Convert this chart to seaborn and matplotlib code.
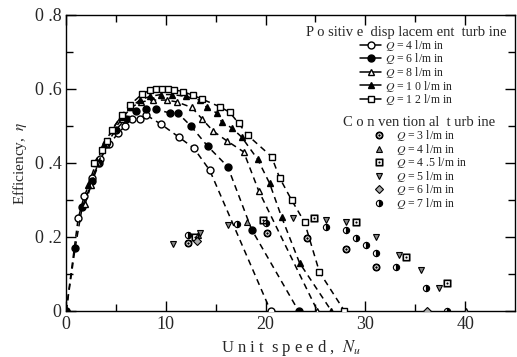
import matplotlib
matplotlib.use("Agg")
import matplotlib.pyplot as plt
from matplotlib.lines import Line2D
import seaborn as sns
import pandas as pd

# ---- Positive displacement turbine (dashed lines) ----
pd4_x = [0, 1.2, 1.8, 2.6, 3.4, 4.3, 5.2, 5.9, 6.6, 7.4, 8.0, 9.5, 11.3, 12.8, 14.4, 20.5]
pd4_y = [0, 0.25, 0.31, 0.36, 0.41, 0.45, 0.48, 0.50, 0.52, 0.52, 0.53, 0.505, 0.47, 0.44, 0.38, 0]
pd6_x = [0, 0.9, 1.6, 2.6, 3.3, 4.0, 5.0, 6.0, 7.0, 8.0, 9.0, 10.4, 11.2, 12.5, 14.2, 16.2, 18.6, 23.3]
pd6_y = [0, 0.17, 0.28, 0.35, 0.40, 0.45, 0.49, 0.52, 0.54, 0.545, 0.545, 0.535, 0.535, 0.50, 0.445, 0.39, 0.22, 0]
pd8_x = [1.9, 2.5, 3.2, 4.0, 4.8, 5.6, 6.5, 7.5, 8.7, 10.1, 11.1, 12.6, 13.6, 14.7, 16.1, 17.8, 19.3, 25.2]
pd8_y = [0.29, 0.34, 0.40, 0.45, 0.49, 0.52, 0.55, 0.565, 0.57, 0.57, 0.565, 0.55, 0.52, 0.487, 0.46, 0.43, 0.325, 0]
pd10_x = [2.2, 3.0, 3.8, 4.6, 5.5, 6.4, 7.4, 8.4, 9.5, 10.6, 12.0, 13.4, 14.1, 15.1, 15.6, 16.6, 17.6, 19.2, 20.4, 21.6, 23.4, 26.6]
pd10_y = [0.34, 0.40, 0.45, 0.49, 0.525, 0.55, 0.57, 0.58, 0.585, 0.585, 0.58, 0.57, 0.55, 0.535, 0.51, 0.495, 0.47, 0.41, 0.345, 0.254, 0.13, 0]
pd12_x = [2.8, 3.6, 4.1, 4.6, 5.6, 6.4, 7.6, 8.4, 9.0, 9.6, 10.2, 10.8, 11.7, 12.7, 13.6, 15.4, 16.4, 17.3, 18.2, 20.6, 21.4, 22.6, 23.9, 25.4, 27.9]
pd12_y = [0.40, 0.435, 0.46, 0.49, 0.53, 0.557, 0.586, 0.597, 0.60, 0.60, 0.60, 0.598, 0.593, 0.583, 0.573, 0.552, 0.537, 0.507, 0.475, 0.417, 0.36, 0.30, 0.24, 0.105, 0]

# ---- Conventional turbine (symbols only) ----
cv3_x = [12.2, 20.1, 24.1, 28.1, 31.1]
cv3_y = [0.185, 0.21, 0.197, 0.168, 0.12]
cv4_x = [13.2, 18.1, 40.1]
cv4_y = [0.205, 0.24, 0]
cv45_x = [12.9, 19.7, 24.9, 29.1, 34.1, 38.2]
cv45_y = [0.20, 0.245, 0.25, 0.24, 0.145, 0.075]
cv5_x = [10.7, 13.4, 16.2, 22.7, 26.1, 28.1, 31.1, 33.4, 35.6, 37.4]
cv5_y = [0.18, 0.21, 0.232, 0.25, 0.245, 0.24, 0.20, 0.15, 0.11, 0.062]
cv6_x = [13.1, 36.2]
cv6_y = [0.19, 0]
cv7_x = [12.2, 17.1, 20.0, 26.1, 28.1, 29.1, 30.1, 31.1, 33.1, 36.1, 38.2]
cv7_y = [0.205, 0.235, 0.238, 0.228, 0.22, 0.197, 0.178, 0.157, 0.12, 0.062, 0]

pd_labels = ["4", "6", "8", "1 0", "1 2"]
cv_labels = ["3", "4", "4 .5", "5", "6", "7"]
x_ticks = [0, 10, 20, 30, 40]
y_ticks = [0, 0.2, 0.4, 0.6, 0.8]
y_ticklabels = ["0", "0 .2", "0 .4", "0 .6", "0 .8"]

sns.set_theme(style="ticks")
plt.rcParams["font.family"] = ["Liberation Serif", "DejaVu Serif"]
plt.rcParams["mathtext.fontset"] = "stix"

fig = plt.figure(figsize=(5.17, 3.57), dpi=100)
ax = fig.add_axes([0.128, 0.129, 0.868, 0.829])

pd_series = [
    (pd4_x, pd4_y, dict(marker="o", markerfacecolor="white")),
    (pd6_x, pd6_y, dict(marker="o", markerfacecolor="black")),
    (pd8_x, pd8_y, dict(marker="^", markerfacecolor="white")),
    (pd10_x, pd10_y, dict(marker="^", markerfacecolor="black")),
    (pd12_x, pd12_y, dict(marker="s", markerfacecolor="white")),
]
pd_handles = []
for xs, ys, st in pd_series:
    df = pd.DataFrame({"x": xs, "y": ys})
    sns.lineplot(data=df, x="x", y="y", ax=ax, estimator=None, sort=False,
                 color="black", linestyle=(0, (4, 3)), linewidth=1.1,
                 markersize=5, markeredgecolor="black", markeredgewidth=1.0,
                 zorder=3, **st)
    pd_handles.append(Line2D([], [], color="black", linestyle="-", linewidth=1.1,
                             markersize=5, markeredgecolor="black", **st))

cv_series = [
    (cv3_x, cv3_y, dict(marker="$\\odot$", markerfacecolor="black", markersize=5)),
    (cv4_x, cv4_y, dict(marker="^", markerfacecolor="#888888", markersize=4.5)),
    (cv45_x, cv45_y, dict(marker="$\\boxdot$", markerfacecolor="black", markersize=5)),
    (cv5_x, cv5_y, dict(marker="v", markerfacecolor="#888888", markersize=4.5)),
    (cv6_x, cv6_y, dict(marker="D", markerfacecolor="#aaaaaa", markersize=4)),
    (cv7_x, cv7_y, dict(marker="o", markerfacecolor="black", markersize=4.5, fillstyle="right")),
]
cv_handles = []
for xs, ys, st in cv_series:
    df = pd.DataFrame({"x": xs, "y": ys})
    sns.lineplot(data=df, x="x", y="y", ax=ax, estimator=None, sort=False,
                 color="black", linestyle="none", markeredgecolor="black",
                 markeredgewidth=0.8, zorder=4, **st)
    cv_handles.append(Line2D([], [], color="black", linestyle="none",
                             markeredgecolor="black", markeredgewidth=0.8, **st))

ax.set_xlim(0, 45)
ax.set_ylim(0, 0.8)
ax.set_xticks(x_ticks)
ax.set_xticklabels([str(t) for t in x_ticks])
ax.set_xticks([5, 15, 25, 35], minor=True)
ax.set_yticks(y_ticks)
ax.set_yticklabels(y_ticklabels)
ax.set_yticks([0.1, 0.3, 0.5, 0.7], minor=True)
ax.tick_params(which="both", direction="in", top=True, right=True,
               labelsize=13, color="black", width=1.0)
ax.tick_params(which="major", length=7)
ax.tick_params(which="minor", length=5)
for s in ax.spines.values():
    s.set_color("black")
    s.set_linewidth(1.0)

ax.set_xlabel("U n i t  s p e e d ,  $N_u$", fontsize=12, labelpad=4)
ax.set_ylabel("Efficiency,  $\\eta$", fontsize=11, labelpad=4)

leg1 = ax.legend(pd_handles, [f"$Q$ = {l} l/m in" for l in pd_labels],
                 title="P o sitiv e  disp lacem ent  turb ine",
                 loc="upper right", bbox_to_anchor=(1.0, 0.99), frameon=False,
                 fontsize=8.5, title_fontsize=10.5, handlelength=1.8,
                 handletextpad=0.3, labelspacing=-0.12, borderpad=0.2)
ax.add_artist(leg1)
leg2 = ax.legend(cv_handles, [f"$Q$ = {l} l/m in" for l in cv_labels],
                 title="C o n ven tion al  t urb ine",
                 loc="upper right", bbox_to_anchor=(0.975, 0.685), frameon=False,
                 fontsize=8.5, title_fontsize=10.5, handlelength=1.2,
                 handletextpad=0.8, labelspacing=-0.12, borderpad=0.2)

fig.savefig("out.png", dpi=100)
